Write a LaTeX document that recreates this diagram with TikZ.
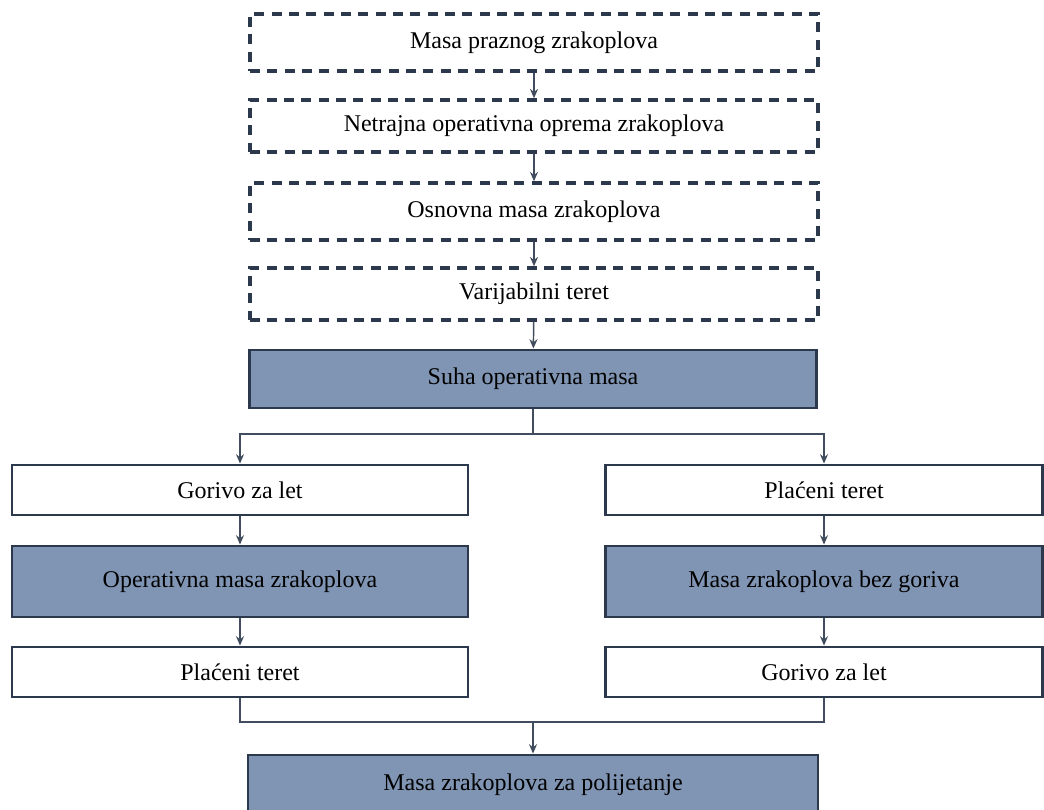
\documentclass[tikz,border=0pt]{standalone}
\usepackage{fontspec}
\setmainfont{Liberation Serif}
\usetikzlibrary{arrows.meta}
\definecolor{massfill}{RGB}{128,149,180}
\definecolor{edgenavy}{RGB}{44,56,76}
\tikzset{
  dashbox/.style={draw=edgenavy,line width=2.6pt,dash pattern=on 7.5pt off 5.5pt,fill=white,minimum width=426pt,font=\fontsize{18}{22}\selectfont},
  plainbox/.style={draw=edgenavy,line width=2.2pt,fill=white,font=\fontsize{18}{22}\selectfont},
  massbox/.style={plainbox,fill=massfill},
  link/.style={draw=edgenavy!90,line width=1.1pt,-{Stealth[length=7pt,width=6pt]}},
  wire/.style={draw=edgenavy!90,line width=1.1pt}
}
\begin{document}
\begin{tikzpicture}[x=0.75pt,y=-0.75pt]
  \clip (0,0) rectangle (1044,809);
  \fill[white] (0,0) rectangle (1044,809);

  % Top chain (dashed)
  \node[dashbox,minimum height=42.75pt] (empty) at (534,42.5) {Masa praznog zrakoplova};
  \node[dashbox,minimum height=39pt] (equip) at (534,126) {Netrajna operativna oprema zrakoplova};
  \node[dashbox,minimum height=42.75pt] (basic) at (534,211.5) {Osnovna masa zrakoplova};
  \node[dashbox,minimum height=39pt] (varload) at (534,294) {Varijabilni teret};
  \node[massbox,minimum width=425pt,minimum height=43.5pt] (dom) at (533,379) {Suha operativna masa};

  % Left column
  \node[plainbox,minimum width=342pt,minimum height=37.5pt] (fuelL) at (240,490) {Gorivo za let};
  \node[massbox,minimum width=342pt,minimum height=53.25pt] (opmass) at (240,581.5) {Operativna masa zrakoplova};
  \node[plainbox,minimum width=342pt,minimum height=37.5pt] (payL) at (240,672) {Plaćeni teret};

  % Right column
  \node[plainbox,minimum width=328pt,minimum height=37.5pt] (payR) at (824,490) {Plaćeni teret};
  \node[massbox,minimum width=328pt,minimum height=53.25pt] (zfm) at (824,581.5) {Masa zrakoplova bez goriva};
  \node[plainbox,minimum width=328pt,minimum height=37.5pt] (fuelR) at (824,672) {Gorivo za let};

  % Take-off mass (cut by the page edge)
  \node[massbox,minimum width=427.5pt,minimum height=45pt] (tom) at (533,785) {Masa zrakoplova za polijetanje};

  % Connectors
  \draw[link] (empty) -- (equip);
  \draw[link] (equip) -- (basic);
  \draw[link] (basic) -- (varload);
  \draw[link] (varload) -- (dom);

  \coordinate (split) at (533,434);
  \coordinate (merge) at (533,722);
  \draw[wire] (dom.south) -- (split);
  \draw[link] (split) -| (fuelL.north);
  \draw[link] (split) -| (payR.north);

  \draw[link] (fuelL) -- (opmass);
  \draw[link] (opmass) -- (payL);
  \draw[link] (payR) -- (zfm);
  \draw[link] (zfm) -- (fuelR);

  \draw[wire] (payL.south) |- (merge) -| (fuelR.south);
  \draw[link] (merge) -- (tom.north);
\end{tikzpicture}
\end{document}
